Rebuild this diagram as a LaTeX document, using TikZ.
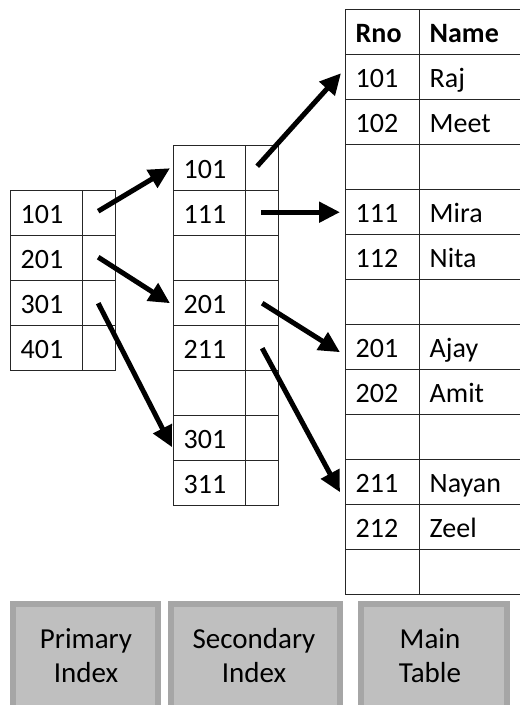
\documentclass[tikz,border=0pt]{standalone}
\usepackage{fontspec}
\setmainfont{Carlito}
\usetikzlibrary{arrows.meta,calc}
\definecolor{gridc}{HTML}{262626}
\definecolor{boxfill}{HTML}{BFBFBF}
\definecolor{boxline}{HTML}{A6A6A6}
\tikzset{
  cell/.style={draw=gridc, line width=1.4pt, anchor=north west, minimum height=45pt,
    inner xsep=10pt, inner ysep=0pt, text height=21pt, text depth=0pt, align=left,
    font=\fontsize{28}{33}\selectfont},
  kcell/.style={text width=52pt},
  pcell/.style={text width=13pt},
  mkcell/.style={text width=54pt},
  mvcell/.style={text width=83pt},
  lbox/.style={draw=boxline, fill=boxfill, line width=6pt, anchor=north west, inner sep=0pt},
  ltext/.style={anchor=base, inner sep=0pt, font=\fontsize{29}{34}\selectfont},
  ptr/.style={line width=5pt, -{Triangle[length=21pt,width=20pt]}}
}
\begin{document}
\begin{tikzpicture}[x=1pt,y=-1pt]
\useasboundingbox (0,0) rectangle (520,705);
% primary index
\foreach \k [count=\i from 0] in {101,201,301,401}{
  \node[cell,kcell] (pk\i) at (10,190+45*\i) {\k};
  \node[cell,pcell] (pp\i) at (82,190+45*\i) {};
}
% secondary index
\foreach \k [count=\i from 0] in {101,111,{},201,211,{},301,311}{
  \node[cell,kcell] (sk\i) at (173,145+45*\i) {\k};
  \node[cell,pcell] (sp\i) at (245,145+45*\i) {};
}
% main table
\node[cell,mkcell] (mk0) at (345,9) {\bfseries Rno};
\node[cell,mvcell] (mv0) at (419,9) {\bfseries Name};
\foreach \a/\b [count=\i from 1] in {101/Raj,102/Meet,{}/{},111/Mira,112/Nita,{}/{},201/Ajay,202/Amit,{}/{},211/Nayan,212/Zeel,{}/{}}{
  \node[cell,mkcell] (mk\i) at (345,9+45*\i) {\a};
  \node[cell,mvcell] (mv\i) at (419,9+45*\i) {\b};
}
% arrows primary -> secondary
\draw[ptr] ($(pp0.center)+(-1,-2)$) -- ($(sk0.west)+(-3,0)$);
\draw[ptr] ($(pp1.center)+(-1,-1)$) -- ($(sk3.west)+(-3,0)$);
\draw[ptr] ($(pp2.center)+(-1,0)$) -- ($(sk6.west)+(-1,9)$);
% arrows secondary -> main
\draw[ptr] ($(sp0.center)+(-5,-2)$) -- ($(mk1.west)+(-4,-4)$);
\draw[ptr] ($(sp1.center)+(-1,-1)$) -- ($(mk4.west)+(-5,0)$);
\draw[ptr] ($(sp3.center)+(0,0)$) -- ($(mk7.west)+(-5,5)$);
\draw[ptr] ($(sp4.center)+(0,0)$) -- ($(mk10.west)+(-5,10)$);
% labels
\node[lbox, minimum width=145pt, minimum height=107pt] (pbox) at (10,601) {};
\node[lbox, minimum width=169pt, minimum height=107pt] (sbox) at (168,601) {};
\node[lbox, minimum width=146pt, minimum height=107pt] (mbox) at (358,601) {};
\node[ltext] (pl1) at (86,648) {Primary};
\node[ltext] (pl2) at (86,682) {Index};
\node[ltext] (sl1) at (254,648) {Secondary};
\node[ltext] (sl2) at (254,682) {Index};
\node[ltext] (ml1) at (430,648) {Main};
\node[ltext] (ml2) at (430,682) {Table};
\end{tikzpicture}
\end{document}
